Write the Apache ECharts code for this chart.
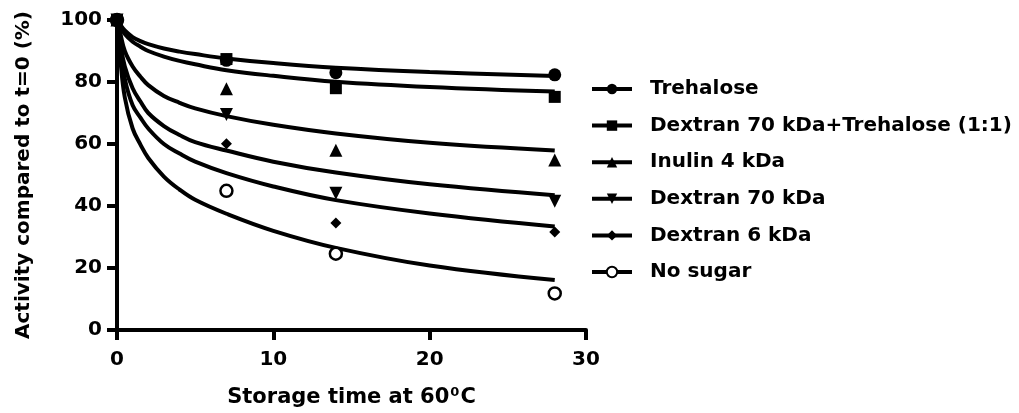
<!DOCTYPE html>
<html>
<head>
<meta charset="utf-8">
<script src="https://cdn.jsdelivr.net/npm/echarts@6/dist/echarts.min.js"></script>
<style>
  html, body { margin: 0; padding: 0; background: #fff; }
  #main { width: 1019px; height: 413px; }
</style>
</head>
<body>
<div id="main"></div>
<script>
// measured points (storage days)
var days = [0, 7, 14, 28];
var trehalose = [100, 87, 83, 82.3];
var dexTre = [100, 87.4, 78, 75.2];
var inulin = [100, 77.8, 58, 54.8];
var dex70 = [100, 69.5, 44.1, 41.5];
var dex6 = [100, 60.1, 34.5, 31.6];
var noSugar = [100, 44.9, 24.6, 11.8];

// fitted curves
var fitDays = [0, 0.2, 0.5, 1, 1.5, 2, 3, 4, 5, 7, 10, 14, 20, 28];
var fitTrehalose = [100, 98.5, 96.6, 94.5, 93.2, 92.2, 90.8, 89.8, 89, 87.6, 86.1, 84.6, 83.2, 81.9];
var fitDexTre = [100, 98, 95.5, 93, 91.4, 90, 88.2, 86.8, 85.7, 83.8, 82, 80.1, 78.4, 76.9];
var fitInulin = [100, 96, 90, 85, 81.7, 79, 75.5, 73.3, 71.5, 69, 66.2, 63.4, 60.4, 57.9];
var fitDex70 = [100, 93, 85, 78, 73.7, 70, 65.8, 62.9, 60.6, 57.9, 54.3, 50.8, 47, 43.5];
var fitDex6 = [100, 91, 81, 72.5, 68.5, 65, 60, 56.9, 54.3, 50.6, 46.3, 41.9, 37.6, 33.4];
var fitNoSugar = [100, 88, 75, 65, 59.8, 55.5, 49.5, 45.3, 42, 37.5, 32, 26.5, 20.8, 16.1];

var names = ['Trehalose', 'Dextran 70 kDa+Trehalose (1:1)', 'Inulin 4 kDa', 'Dextran 70 kDa', 'Dextran 6 kDa', 'No sugar'];
var xTicks = [0, 10, 20, 30];
var yTicks = [0, 20, 40, 60, 80, 100];

var font = '"DejaVu Sans", sans-serif';
var points = [trehalose, dexTre, inulin, dex70, dex6, noSugar];
var fits = [fitTrehalose, fitDexTre, fitInulin, fitDex70, fitDex6, fitNoSugar];
var shapes = ['circle', 'rect', 'triangle', 'path://M0,0L10,0L5,9Z', 'diamond', 'circle'];
var sizes = [13, 12, 13, 13, 11, 12];

function pairs(xs, ys) {
  return xs.map(function (x, i) { return [x, ys[i]]; });
}

var series = [];
names.forEach(function (n, i) {
  var open = (i === 5);
  series.push({
    name: n,
    type: 'line',
    data: pairs(fitDays, fits[i]),
    smooth: 0.4,
    symbol: shapes[i],
    showSymbol: false,
    lineStyle: { color: '#000', width: 4 },
    itemStyle: open ? { color: '#fff', borderColor: '#000', borderWidth: 2 } : { color: '#000' },
    z: 2
  });
});
names.forEach(function (n, i) {
  var open = (i === 5);
  series.push({
    name: n,
    type: 'scatter',
    data: pairs(days, points[i]),
    symbol: shapes[i],
    symbolSize: sizes[i],
    itemStyle: open ? { color: '#fff', borderColor: '#000', borderWidth: 2.5, opacity: 1 } : { color: '#000', opacity: 1 },
    z: open ? 3 : 4
  });
});

var myChart = echarts.init(document.getElementById('main'));
var option = {
  animation: false,
  backgroundColor: '#fff',
  grid: { left: 117, right: 433, top: 20, bottom: 80 },
  legend: {
    data: names,
    orient: 'vertical',
    left: 585,
    top: 72,
    itemWidth: 40,
    itemHeight: 13,
    itemGap: 12.6,
    selectedMode: false,
    lineStyle: { color: '#000', width: 4 },
    textStyle: { fontFamily: font, fontWeight: 'bold', fontSize: 20, color: '#000', lineHeight: 24, padding: [0, 0, 0, 13] }
  },
  xAxis: {
    type: 'value',
    min: xTicks[0],
    max: xTicks[xTicks.length - 1],
    interval: 10,
    name: '{a|Storage time at 60}{s|0}{a|C}',
    nameLocation: 'middle',
    nameGap: 56,
    nameTextStyle: {
      rich: {
        a: { fontFamily: font, fontWeight: 'bold', fontSize: 21, color: '#000' },
        s: { fontFamily: font, fontWeight: 'bold', fontSize: 13, color: '#000', verticalAlign: 'top', padding: [0, 1, 10, 1] }
      }
    },
    axisLine: { lineStyle: { color: '#000', width: 4 } },
    axisTick: { show: true, inside: false, length: 10, lineStyle: { color: '#000', width: 4 } },
    axisLabel: { margin: 20, fontFamily: font, fontWeight: 'bold', fontSize: 20, color: '#000' },
    splitLine: { show: false }
  },
  yAxis: {
    type: 'value',
    min: yTicks[0],
    max: yTicks[yTicks.length - 1],
    interval: 20,
    name: 'Activity compared to t=0 (%)',
    nameLocation: 'middle',
    nameGap: 83,
    nameTextStyle: { fontFamily: font, fontWeight: 'bold', fontSize: 20, color: '#000' },
    axisLine: { lineStyle: { color: '#000', width: 4 } },
    axisTick: { show: true, inside: false, length: 10, lineStyle: { color: '#000', width: 4 } },
    axisLabel: { margin: 15, fontFamily: font, fontWeight: 'bold', fontSize: 20, color: '#000' },
    splitLine: { show: false }
  },
  series: series
};
myChart.setOption(option);
</script>
</body>
</html>
